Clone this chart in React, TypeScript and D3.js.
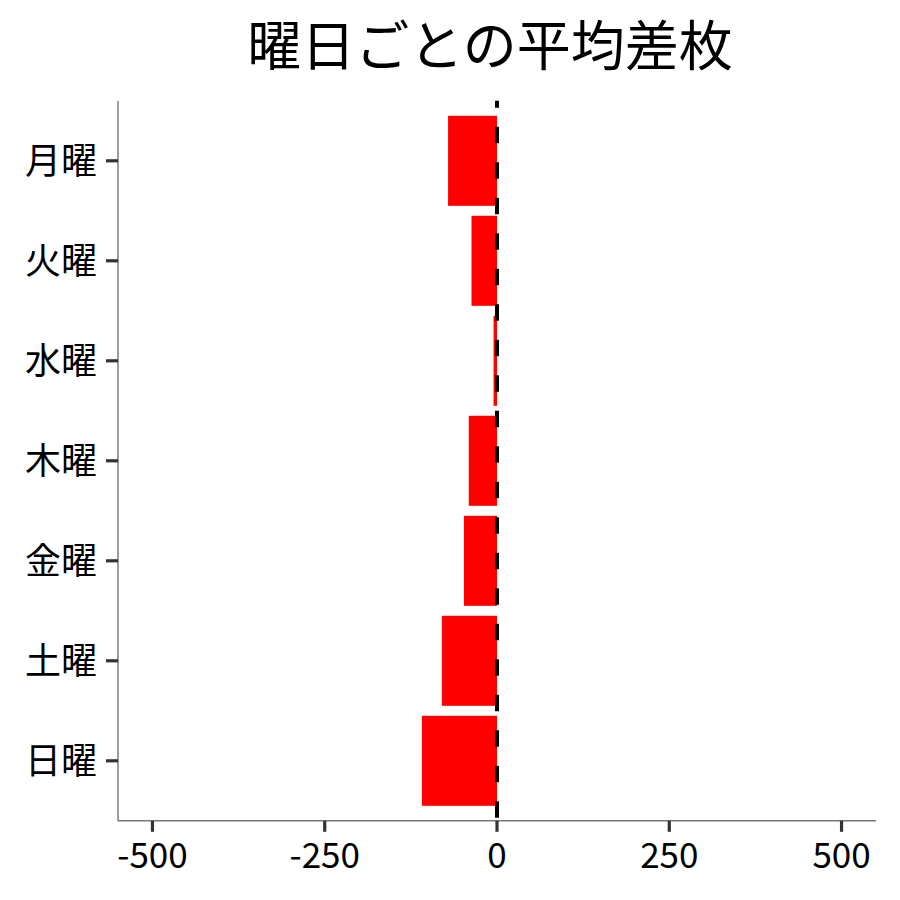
import React from 'react';
import { scaleLinear, scaleBand } from 'd3';

const days = ['月曜', '火曜', '水曜', '木曜', '金曜', '土曜', '日曜'];
const avgDiff = [-71, -37, -5, -41, -48, -80, -109];
const xTicks = [-500, -250, 0, 250, 500];
const title = '曜日ごとの平均差枚';

const App: React.FC = () => {
    const width = 900;
    const height = 900;
    const panel = { left: 118, right: 876, top: 100.8, bottom: 820.8 };
    const font = '"Noto Sans CJK JP", "Noto Sans", sans-serif';

    const xScale = scaleLinear()
        .domain([-550, 550])
        .range([panel.left, panel.right]);

    // ggplot-style discrete axis: bars 0.9 wide, 0.6 expansion each side
    const yScale = scaleBand<string>()
        .domain(days)
        .range([panel.top, panel.bottom])
        .paddingInner(0.1)
        .paddingOuter(0.15);

    const bandCenter = (d: string) => (yScale(d) ?? 0) + yScale.bandwidth() / 2;

    return (
        <svg
            width={width}
            height={height}
            style={{ position: 'absolute', left: 0, top: 0, background: '#fff' }}
            fontFamily={font}
        >
            <rect width={width} height={height} fill="#ffffff" />

            {/* Title */}
            <text x={490} y={66} textAnchor="middle" fontSize={54} fill="#000">
                {title}
            </text>

            {/* Bars */}
            <g>
                {days.map((d, i) => {
                    const v = avgDiff[i];
                    const x0 = xScale(Math.min(0, v));
                    const x1 = xScale(Math.max(0, v));
                    return (
                        <rect
                            key={d}
                            x={x0}
                            y={yScale(d)}
                            width={x1 - x0}
                            height={yScale.bandwidth()}
                            fill="#ff0000"
                        />
                    );
                })}
            </g>

            {/* Zero reference line */}
            <line
                x1={xScale(0)}
                x2={xScale(0)}
                y1={panel.top}
                y2={panel.bottom}
                stroke="#000"
                strokeWidth={4}
                strokeDasharray="16.5 19"
                strokeDashoffset={9.6}
            />

            {/* Axis lines */}
            <line x1={panel.left} x2={panel.left} y1={panel.top} y2={panel.bottom} stroke="#777" strokeWidth={1.4} />
            <line x1={panel.left} x2={panel.right} y1={panel.bottom} y2={panel.bottom} stroke="#777" strokeWidth={1.4} />

            {/* Y axis ticks and labels */}
            <g>
                {days.map(d => (
                    <g key={d}>
                        <line
                            x1={panel.left - 12}
                            x2={panel.left}
                            y1={bandCenter(d)}
                            y2={bandCenter(d)}
                            stroke="#333"
                            strokeWidth={3.2}
                        />
                        <text
                            x={97}
                            y={bandCenter(d)}
                            dy="0.36em"
                            textAnchor="end"
                            fontSize={36}
                            fill="#000"
                        >
                            {d}
                        </text>
                    </g>
                ))}
            </g>

            {/* X axis ticks and labels */}
            <g>
                {xTicks.map(t => (
                    <g key={t}>
                        <line
                            x1={xScale(t)}
                            x2={xScale(t)}
                            y1={panel.bottom}
                            y2={panel.bottom + 11}
                            stroke="#333"
                            strokeWidth={3.2}
                        />
                        <text x={xScale(t)} y={868} textAnchor="middle" fontSize={35} fill="#000">
                            {t}
                        </text>
                    </g>
                ))}
            </g>
        </svg>
    );
};

export default App;
